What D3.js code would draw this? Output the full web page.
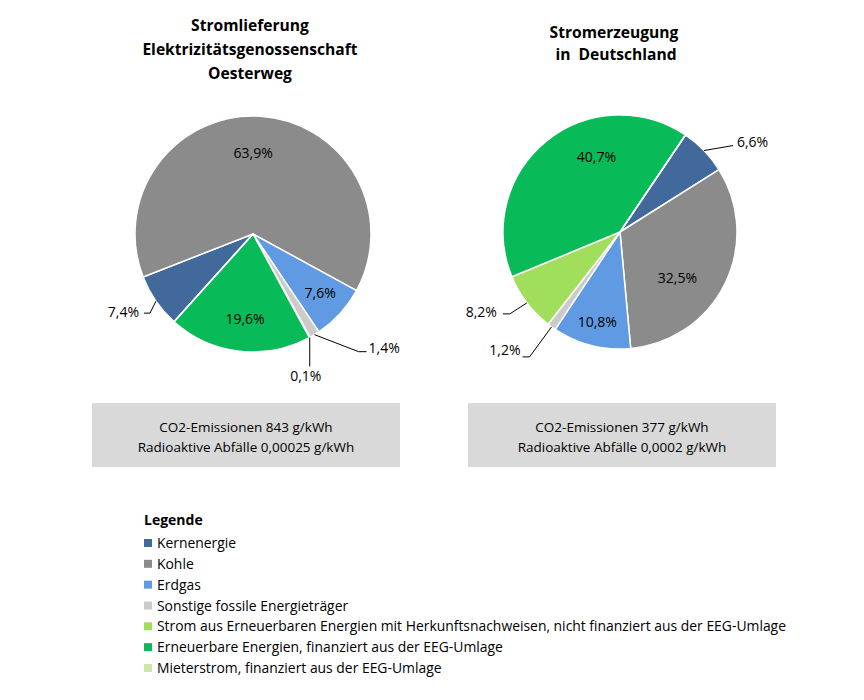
<!DOCTYPE html>
<html><head><meta charset="utf-8">
<script src="https://cdn.jsdelivr.net/npm/d3@7"></script>
<style>
body{margin:0;background:#fff;}
text{font-family:"Open Sans","Noto Sans",sans-serif;fill:#000;}
</style></head>
<body>
<svg id="chart" width="864" height="700"></svg>
<script>
// ---------- data ----------
const categories = [
  "Kernenergie",
  "Kohle",
  "Erdgas",
  "Sonstige fossile Energieträger",
  "Strom aus Erneuerbaren Energien mit Herkunftsnachweisen, nicht finanziert aus der EEG-Umlage",
  "Erneuerbare Energien, finanziert aus der EEG-Umlage",
  "Mieterstrom, finanziert aus der EEG-Umlage"
];
const colors = ["#41699c","#8b8b8b","#5f9ae2","#cbcbcb","#a0de5c","#08bb58","#cbe6a9"];
const valuesOesterweg   = [7.4, 63.9, 7.6, 1.4, 0.1, 19.6, 0];
const valuesDeutschland = [6.6, 32.5, 10.8, 1.2, 8.2, 40.7, 0];
const titleOesterweg   = ["Stromlieferung", "Elektrizitätsgenossenschaft", "Oesterweg"];
const titleDeutschland = ["Stromerzeugung", " in  Deutschland"];
const infoOesterweg   = ["CO2-Emissionen 843 g/kWh", "Radioaktive Abfälle 0,00025 g/kWh"];
const infoDeutschland = ["CO2-Emissionen 377 g/kWh", "Radioaktive Abfälle 0,0002 g/kWh"];
const legendTitle = "Legende";

// ---------- layout / style ----------
const svg = d3.select("#chart");
const fmt = v => d3.format(".1f")(v).replace(".", ",") + "%";

// label placement styles per slice index: inside (nudge) or outside (leader elbow offsets)
const labelStyleO = {
  0: {out:true, elbow:[-6,12], end:[-12,12], anchor:"end", tx:-17, ty:16},
  1: {r:0.69, dx:-5, dy:0},
  2: {r:0.77, dx:0, dy:-2},
  3: {out:true, elbow:[44,17], end:[52,17], anchor:"start", tx:54, ty:18},
  4: {out:true, elbow:[0,29], end:[0,29], anchor:"middle", tx:-4, ty:44},
  5: {r:0.72, dx:2, dy:1}
};
const labelStyleD = {
  0: {out:true, elbow:[29,-5], end:[29,-5], anchor:"start", tx:33, ty:-4},
  1: {r:0.69, dx:-15, dy:10},
  2: {r:0.79, dx:0, dy:0},
  3: {out:true, elbow:[-22,30], end:[-29,30], anchor:"end", tx:-31, ty:28},
  4: {out:true, elbow:[-17,11], end:[-24,11], anchor:"end", tx:-30, ty:14},
  5: {r:0.67, dx:26, dy:-14}
};

function drawPie(cx, cy, R, startDeg, values, labelStyle) {
  const g = svg.append("g").attr("transform", `translate(${cx},${cy})`);
  const start = startDeg * Math.PI / 180;
  const pie = d3.pie().sort(null).value(d => d).startAngle(start).endAngle(start + 2*Math.PI);
  const arcs = pie(values);
  const arc = d3.arc().innerRadius(0).outerRadius(R);
  g.selectAll("path").data(arcs).enter().append("path")
    .attr("d", arc)
    .attr("fill", (d,i) => colors[i])
    .attr("stroke", "#fff").attr("stroke-width", 1.5).attr("stroke-linejoin","round");

  arcs.forEach((d, i) => {
    const st = labelStyle[i];
    if (!st || d.value <= 0) return;
    const mid = (d.startAngle + d.endAngle) / 2;
    if (st.out) {
      const ex = Math.sin(mid) * R, ey = -Math.cos(mid) * R;
      g.append("polyline")
        .attr("points", [[ex,ey],[ex+st.elbow[0], ey+st.elbow[1]],[ex+st.end[0], ey+st.end[1]]].map(p=>p.join(",")).join(" "))
        .attr("fill","none").attr("stroke","#000").attr("stroke-width",1);
      g.append("text").attr("x", ex + st.tx).attr("y", ey + st.ty)
        .attr("text-anchor", st.anchor).attr("font-size", 14).text(fmt(d.value));
    } else {
      const lr = R * st.r;
      const x = Math.sin(mid) * lr + st.dx, y = -Math.cos(mid) * lr + st.dy;
      g.append("text").attr("x", x).attr("y", y + 5)
        .attr("text-anchor", "middle").attr("font-size", 14).text(fmt(d.value));
    }
  });
}

function drawTitle(cx, y0, lh, lines) {
  svg.append("text").attr("x", cx).attr("y", y0)
    .attr("text-anchor","middle").attr("font-size", 15.6).attr("font-weight","bold")
    .style("white-space","pre")
    .selectAll("tspan").data(lines).enter().append("tspan")
    .attr("x", cx).attr("dy", (d,i) => i ? lh : 0).text(d => d);
}

function drawInfo(x, y, w, h, lines) {
  svg.append("rect").attr("x", x).attr("y", y).attr("width", w).attr("height", h).attr("fill", "#d9d9d9");
  svg.append("text").attr("text-anchor","middle").attr("font-size", 13.5)
    .selectAll("tspan").data(lines).enter().append("tspan")
    .attr("x", x + w/2).attr("y", (d,i) => y + 29 + i*20).text(d => d);
}

drawTitle(250, 31, 24, titleOesterweg);
drawTitle(614, 38, 22, titleDeutschland);
drawPie(253, 234, 118, 222, valuesOesterweg, labelStyleO);
drawPie(620, 232, 117, 34, valuesDeutschland, labelStyleD);
drawInfo(92, 403, 308, 64, infoOesterweg);
drawInfo(468, 403, 308, 64, infoDeutschland);

// legend
const lg = svg.append("g").attr("transform", "translate(144,0)");
lg.append("text").attr("x", 0).attr("y", 525).attr("font-size", 14).attr("font-weight","bold").text(legendTitle);
const ly = d3.scalePoint().domain(categories).range([543, 668]);
const items = lg.selectAll("g.item").data(categories).enter().append("g").attr("class","item")
  .attr("transform", d => `translate(0,${ly(d)})`);
items.append("rect").attr("x", 0).attr("y", -4).attr("width", 8).attr("height", 8)
  .attr("fill", (d,i) => colors[i]);
items.append("text").attr("x", 13).attr("y", 5).attr("font-size", 13.9).text(d => d);
</script>
</body></html>
